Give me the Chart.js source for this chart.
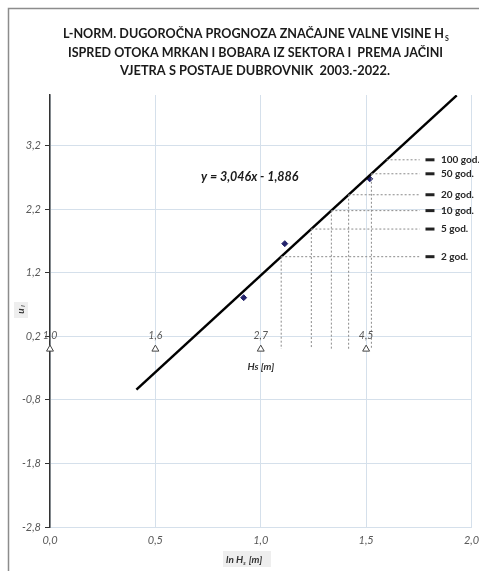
<!DOCTYPE html>
<html>
<head>
<meta charset="utf-8">
<script src="https://cdn.jsdelivr.net/npm/chart.js@4.4.1/dist/chart.umd.min.js"></script>
<style>
  html, body { margin: 0; padding: 0; background: #fff; }
  #wrap { position: relative; width: 479px; height: 571px; }
</style>
</head>
<body>
<div id="wrap"><canvas id="chart" width="479" height="571"></canvas></div>
<script>
// measured points (ln Hs, u)
const pointX = [0.919, 1.114, 1.517];
const pointY = [0.81, 1.66, 2.68];

// fitted line y = 3,046x - 1,886 (end points)
const fitX = [0.41, 1.93];
const fitY = [-0.637, 3.993];
const equationText = "y = 3,046x - 1,886";

// return periods
const periodLabels = ["2 god.", "5 god.", "10 god.", "20 god.", "50 god.", "100 god."];
const periodU = [1.455, 1.89, 2.18, 2.43, 2.76, 2.98];
const periodX = [1.097, 1.24, 1.335, 1.417, 1.525, 1.597];
const periodHasVertical = [true, true, true, true, true, false];
const periodLineEnd = 1.754;
const periodMarkX = 1.803;

// secondary Hs axis (triangles at u = 0)
const hsX = [0.0, 0.5, 1.0, 1.5];
const hsLabels = ["1,0", "1,6", "2,7", "4,5"];

// axis ticks
const yTicks = [-2.8, -1.8, -0.8, 0.2, 1.2, 2.2, 3.2];
const yMin = -2.8, yMax = 4.0;
const xMin = 0, xMax = 2.0;

const titleLines = [
  "L-NORM. DUGOROČNA PROGNOZA ZNAČAJNE VALNE VISINE H",
  "ISPRED OTOKA MRKAN I BOBARA IZ SEKTORA I  PREMA JAČINI",
  "VJETRA S POSTAJE DUBROVNIK  2003.-2022."
];

const gridColor = "#d5e0eb";
const tickColor = "#595959";
const FONT = "Lato, 'Open Sans', 'DejaVu Sans', sans-serif";

function comma(v, d) {
  return v.toFixed(d).replace(".", ",");
}

// dotted guide lines
const guideSets = [];
for (let i = 0; i < periodU.length; i++) {
  guideSets.push({
    type: "line",
    data: [{ x: periodX[i], y: periodU[i] }, { x: periodLineEnd, y: periodU[i] }],
    borderColor: "#8a8a8a",
    borderWidth: 1,
    borderDash: [2, 2],
    pointRadius: 0,
    fill: false,
  });
  if (periodHasVertical[i]) {
    guideSets.push({
      type: "line",
      data: [{ x: periodX[i], y: periodU[i] }, { x: periodX[i], y: 0 }],
      borderColor: "#8a8a8a",
      borderWidth: 1,
      borderDash: [2, 2],
      pointRadius: 0,
      fill: false,
    });
  }
}

const annotations = {
  id: "annotations",
  beforeDraw(chart) {
    const ctx = chart.ctx;
    ctx.save();
    ctx.strokeStyle = "#8c8c8c";
    ctx.lineWidth = 1.5;
    ctx.beginPath();
    ctx.moveTo(8.5, 571);
    ctx.lineTo(8.5, 8.5);
    ctx.lineTo(479, 8.5);
    ctx.stroke();
    ctx.restore();
  },
  afterDraw(chart) {
    const ctx = chart.ctx;
    const xs = chart.scales.x, ys = chart.scales.y;
    ctx.save();

    // title
    ctx.fillStyle = "#1a1a1a";
    ctx.textBaseline = "alphabetic";
    ctx.textAlign = "center";
    ctx.font = "bold 14px " + FONT;
    const widths = [381, 375, 270];
    const centers = [253.5, 255.5, 255];
    const baselines = [38, 57, 75];
    for (let i = 0; i < titleLines.length; i++) {
      ctx.fillText(titleLines[i], centers[i], baselines[i], widths[i]);
    }
    ctx.font = "bold 7px " + FONT;
    ctx.textAlign = "left";
    ctx.fillText("S", 445, 41);

    // y axis title u_i
    ctx.save();
    ctx.translate(21, 310);
    ctx.rotate(-Math.PI / 2);
    ctx.fillStyle = "#eeeeee";
    ctx.fillRect(-8, -7, 16, 14);
    ctx.fillStyle = "#333";
    ctx.textAlign = "center";
    ctx.textBaseline = "middle";
    ctx.font = "bold italic 10px " + FONT;
    ctx.fillText("u", -1, 0);
    ctx.font = "bold italic 6px " + FONT;
    ctx.fillText("i", 4, 2);
    ctx.restore();

    // x axis title ln Hs [m]
    ctx.fillStyle = "#eeeeee";
    ctx.fillRect(223, 551, 48, 16);
    ctx.fillStyle = "#333";
    ctx.textBaseline = "alphabetic";
    ctx.textAlign = "left";
    ctx.font = "bold italic 10px " + FONT;
    let tx = 226;
    ctx.fillText("ln H", tx, 563);
    tx += ctx.measureText("ln H").width;
    ctx.font = "bold italic 6px " + FONT;
    ctx.fillText("s", tx, 565);
    tx += ctx.measureText("s").width + 1;
    ctx.font = "bold italic 10px " + FONT;
    ctx.fillText(" [m]", tx, 563);

    // Hs labels above triangles
    ctx.font = "italic 10.5px " + FONT;
    ctx.fillStyle = tickColor;
    ctx.textAlign = "center";
    const y0 = ys.getPixelForValue(0);
    for (let i = 0; i < hsX.length; i++) {
      ctx.fillText(hsLabels[i], xs.getPixelForValue(hsX[i]), y0 - 10);
    }
    ctx.font = "bold italic 10px " + FONT;
    ctx.fillStyle = "#333";
    ctx.fillText("Hs [m]", xs.getPixelForValue(1.0), y0 + 21);

    // regression equation
    ctx.font = "bold italic 12.5px " + FONT;
    ctx.fillStyle = "#1a1a1a";
    ctx.textBaseline = "middle";
    ctx.fillText(equationText, xs.getPixelForValue(0.948), ys.getPixelForValue(2.716));

    // return period labels
    ctx.font = "bold 10px " + FONT;
    ctx.textAlign = "left";
    ctx.fillStyle = "#262626";
    for (let i = 0; i < periodLabels.length; i++) {
      ctx.fillText(periodLabels[i], xs.getPixelForValue(periodMarkX) + 11, ys.getPixelForValue(periodU[i]));
    }
    ctx.restore();
  }
};

const ctx = document.getElementById("chart").getContext("2d");
const chart = new Chart(ctx, {
  type: "scatter",
  data: {
    datasets: [
      ...guideSets,
      {
        type: "line",
        label: "fit",
        data: fitX.map((x, i) => ({ x: x, y: fitY[i] })),
        borderColor: "#000",
        borderWidth: 2.5,
        pointRadius: 0,
        fill: false,
      },
      {
        label: "u",
        data: pointX.map((x, i) => ({ x: x, y: pointY[i] })),
        pointStyle: "rectRot",
        pointRadius: 3,
        backgroundColor: "#23236b",
        borderColor: "#23236b",
        borderWidth: 1,
      },
      {
        label: "Hs",
        data: hsX.map((x) => ({ x: x, y: 0 })),
        pointStyle: "triangle",
        pointRadius: 4,
        backgroundColor: "#ffffff",
        borderColor: "#444",
        borderWidth: 1,
        clip: false,
      },
      {
        label: "marks",
        data: periodU.map((u) => ({ x: periodMarkX, y: u })),
        pointStyle: "line",
        pointRadius: 4.5,
        borderColor: "#222",
        borderWidth: 3,
        clip: false,
      },
    ],
  },
  options: {
    responsive: false,
    animation: false,
    layout: { padding: { top: 95, left: 10, right: 6, bottom: 0 } },
    plugins: {
      legend: { display: false },
      tooltip: { enabled: false },
      title: { display: false },
    },
    scales: {
      x: {
        type: "linear",
        min: xMin,
        max: xMax,
        ticks: {
          stepSize: 0.5,
          color: tickColor,
          font: { family: FONT, size: 11, style: "italic" },
          padding: 7,
          maxRotation: 0,
          callback: (v) => comma(v, 1),
        },
        grid: { color: gridColor, drawTicks: false },
        border: { color: gridColor },
        afterFit(scale) {
          scale.height = 44;
          scale.paddingLeft = 0;
          scale.paddingRight = 0;
        },
      },
      y: {
        type: "linear",
        min: yMin,
        max: yMax,
        afterBuildTicks(scale) {
          scale.ticks = yTicks.map((v) => ({ value: v }));
        },
        ticks: {
          color: tickColor,
          font: { family: FONT, size: 11, style: "italic" },
          padding: 4,
          callback: (v) => comma(v, 1),
        },
        grid: { color: gridColor, tickLength: 5, tickColor: "#333" },
        border: { color: "#333", width: 1.5 },
        afterFit(scale) {
          scale.width = 40;
          scale.paddingTop = 0;
          scale.paddingBottom = 0;
        },
      },
    },
  },
  plugins: [annotations],
});
</script>
</body>
</html>
